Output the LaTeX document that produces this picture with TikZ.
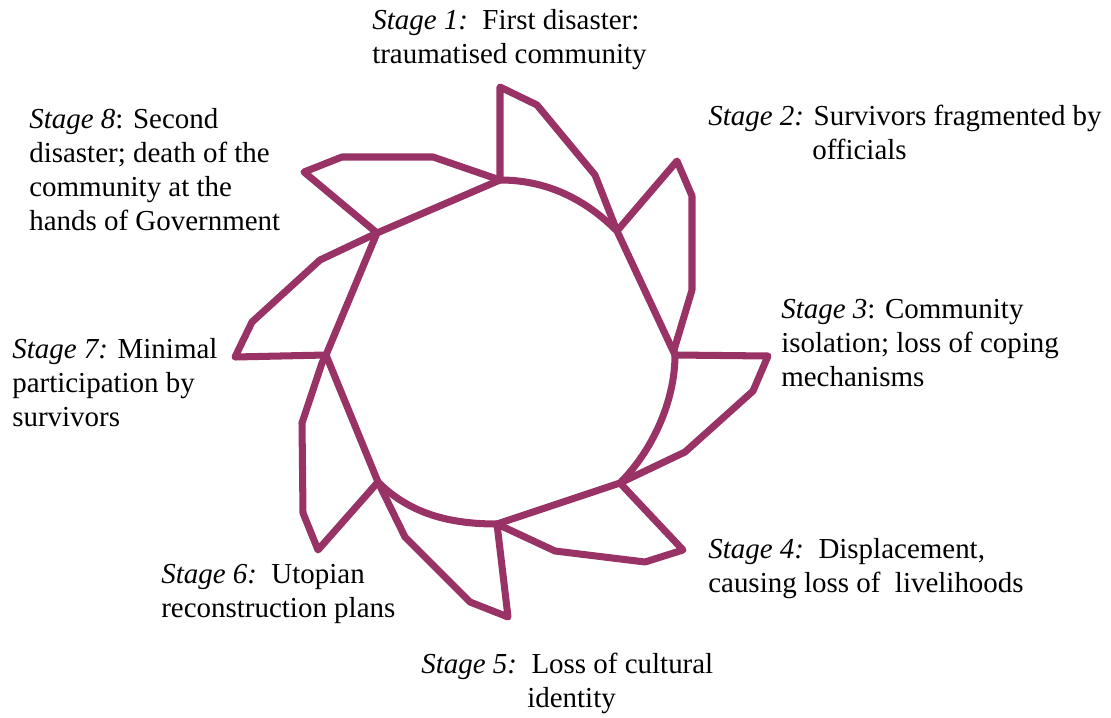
\documentclass[tikz,border=0pt]{standalone}
\usepackage{fontspec}
\setmainfont{Liberation Serif}
\definecolor{wheel}{HTML}{993366}
\begin{document}
\begin{tikzpicture}[x=0.025cm,y=-0.025cm,
  wheelline/.style={draw=wheel,line width=5pt,line join=round,line cap=round},
  lbl/.style={anchor=base west,inner sep=0pt,font=\fontsize{20.6}{24}\selectfont}]
\useasboundingbox (0,0) rectangle (1111,717);
% vertices of the inner ring
\coordinate (N)  at (500,180);
\coordinate (NE) at (617,231);
\coordinate (E)  at (675,355);
\coordinate (SE) at (620,483);
\coordinate (S)  at (497,524);
\coordinate (SW) at (378,482);
\coordinate (W)  at (326,355);
\coordinate (NW) at (377,233);
% inner ring: arcs and chords
\draw[wheelline] (N) .. controls (546,180) and (584.5,198.5) .. (NE) -- (E)
  .. controls (675,401) and (652.5,450.5) .. (SE) -- (S)
  .. controls (451,524) and (410.5,514.5) .. (SW) -- (W) -- (NW) -- (N);
% blades
\draw[wheelline] (N) -- (500,87) -- (537,105) -- (595,175) -- (NE);
\draw[wheelline] (NE) -- (677,161) -- (692,196) -- (692,290) -- (674,350) -- (E);
\draw[wheelline] (E) -- (768,356) -- (753,391) -- (685,452) -- (SE);
\draw[wheelline] (SE) -- (683,550) -- (645,562) -- (555,551) -- (S);
\draw[wheelline] (S) -- (508,617) -- (470,602) -- (405,537) -- (SW);
\draw[wheelline] (SW) -- (318,550) -- (303,513) -- (302,423) -- (322,363) -- (W);
\draw[wheelline] (W) -- (235,357) -- (252,322) -- (320,260) -- (NW);
\draw[wheelline] (NW) -- (304,172) -- (342,157) -- (433,157) -- (N);
% labels
\node[lbl] (s1a) at (372,29) {\textit{Stage 1:}\ \ First disaster:};
\node[lbl] (s1b) at (372,63) {traumatised community};
\node[lbl] (s2a) at (708,125) {\textit{Stage 2:} Survivors fragmented by};
\node[lbl] (s2b) at (812,159) {officials};
\node[lbl] (s3a) at (781,318) {\textit{Stage 3}: Community};
\node[lbl] (s3b) at (781,352) {isolation; loss of coping};
\node[lbl] (s3c) at (781,386) {mechanisms};
\node[lbl] (s4a) at (708,558) {\textit{Stage 4:}\ \ Displacement,};
\node[lbl] (s4b) at (708,592) {causing loss of\ \ livelihoods};
\node[lbl] (s5a) at (421,673) {\textit{Stage 5:}\ \ Loss of cultural};
\node[lbl] (s5b) at (527,707) {identity};
\node[lbl] (s6a) at (161,583) {\textit{Stage 6:}\ \ Utopian};
\node[lbl] (s6b) at (161,617) {reconstruction plans};
\node[lbl] (s7a) at (12,358) {\textit{Stage 7:} Minimal};
\node[lbl] (s7b) at (12,392) {participation by};
\node[lbl] (s7c) at (12,426) {survivors};
\node[lbl] (s8a) at (29,128) {\textit{Stage 8}: Second};
\node[lbl] (s8b) at (29,162) {disaster; death of the};
\node[lbl] (s8c) at (29,196) {community at the};
\node[lbl] (s8d) at (29,230) {hands of Government};
\end{tikzpicture}
\end{document}
